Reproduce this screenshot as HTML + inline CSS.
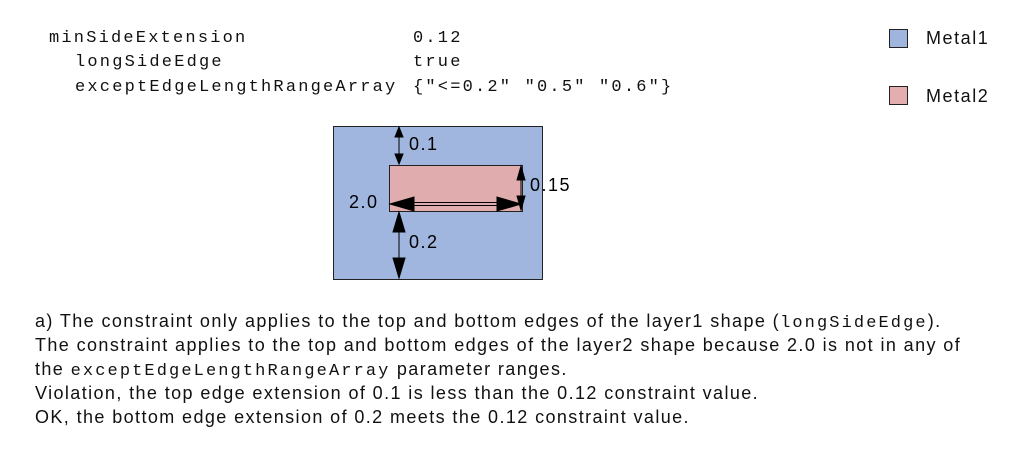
<!DOCTYPE html>
<html><head><style>
body{margin:0;width:1013px;height:462px;background:#fff;position:relative;overflow:hidden}
.m{position:absolute;font-family:"Liberation Mono",monospace;font-size:17px;letter-spacing:2.2px;color:#111;white-space:pre;line-height:20px}
.s{position:absolute;font-family:"Liberation Sans",sans-serif;font-size:18px;letter-spacing:1.4px;color:#111;white-space:pre;line-height:20px}
.sw{position:absolute;width:17px;height:17px;border:1px solid #222}
code{font-family:"Liberation Mono",monospace;font-size:17px;letter-spacing:2.1px}
svg text{font-family:"Liberation Sans",sans-serif;font-size:18px;letter-spacing:1.5px}
</style></head><body>
<div class="m" style="left:49px;top:29px">minSideExtension</div>
<div class="m" style="left:75px;top:53px">longSideEdge</div>
<div class="m" style="left:75px;top:78px">exceptEdgeLengthRangeArray</div>
<div class="m" style="left:413px;top:29px">0.12</div>
<div class="m" style="left:413px;top:53px">true</div>
<div class="m" style="left:413px;top:78px">{"&lt;=0.2" "0.5" "0.6"}</div>
<div class="sw" style="left:889px;top:29px;background:#9fb5de"></div>
<div class="s" style="left:926px;top:28px;letter-spacing:1.55px">Metal1</div>
<div class="sw" style="left:889px;top:86px;background:#e2aeae"></div>
<div class="s" style="left:926px;top:86px;letter-spacing:1.55px">Metal2</div>
<svg style="position:absolute;left:0;top:0" width="1013" height="462">
<rect x="333.5" y="126.5" width="209" height="153" fill="#a0b6de" stroke="#222"/>
<rect x="389.5" y="165.5" width="133" height="46" fill="#e0acad" stroke="#222"/>
<g fill="#000" stroke="#000">
<line x1="399" y1="134" x2="399" y2="157"/>
<polygon points="399,127 395,137 403,137"/><polygon points="399,164 395,154 403,154"/>
<line x1="399" y1="222" x2="399" y2="268"/>
<polygon points="399,212 393,232 405,232"/><polygon points="399,278 393,258 405,258"/>
<line x1="521" y1="172" x2="521" y2="204"/>
<polygon points="521,166 517,180 525,180"/><polygon points="521,210 517,196 525,196"/>
<rect x="400" y="202.5" width="110" height="3" fill="none" stroke-width="1"/>
<polygon points="390,204 414,197 414,211"/><polygon points="521,204 497,197 497,211"/>
</g>
<text x="409" y="150">0.1</text>
<text x="530" y="191">0.15</text>
<text x="349" y="208">2.0</text>
<text x="409" y="248">0.2</text>
</svg>
<div class="s" style="left:35px;top:311px">a) The constraint only applies to the top and bottom edges of the layer1 shape (<code>longSideEdge</code>).</div>
<div class="s" style="left:35px;top:335px">The constraint applies to the top and bottom edges of the layer2 shape because 2.0 is not in any of</div>
<div class="s" style="left:35px;top:359px">the <code>exceptEdgeLengthRangeArray</code> parameter ranges.</div>
<div class="s" style="left:35px;top:383px">Violation, the top edge extension of 0.1 is less than the 0.12 constraint value.</div>
<div class="s" style="left:35px;top:407px">OK, the bottom edge extension of 0.2 meets the 0.12 constraint value.</div>
</body></html>
